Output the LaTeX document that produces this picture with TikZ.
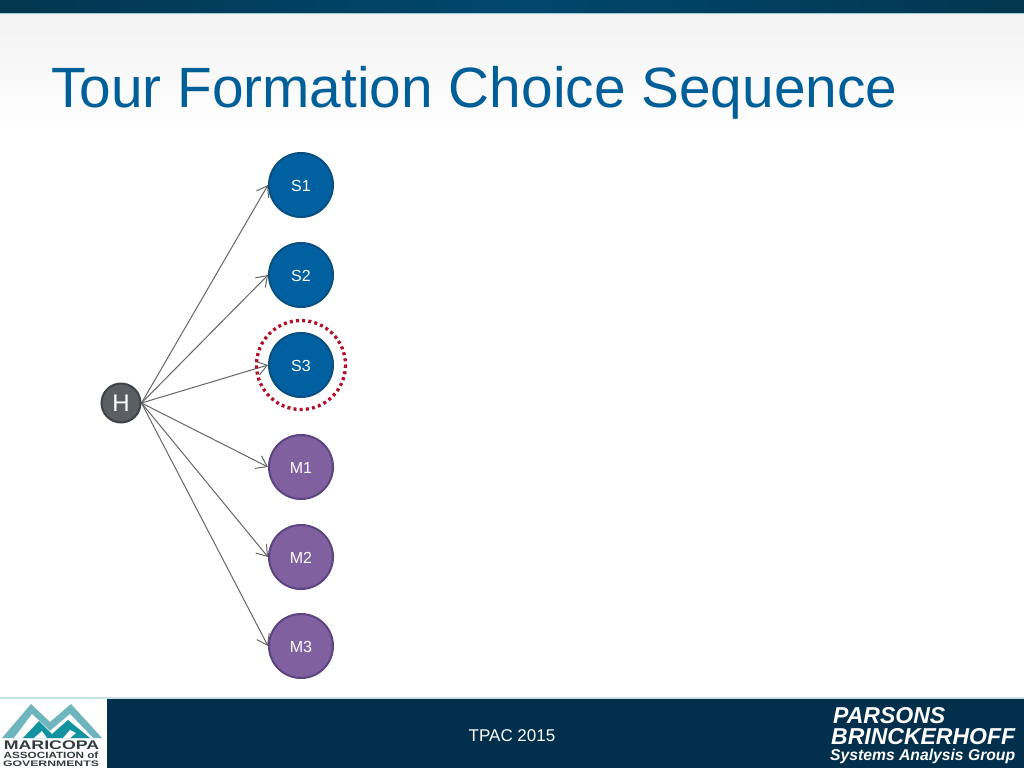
\documentclass[tikz,border=0pt]{standalone}
\usepackage{fontspec}
\setmainfont{Liberation Sans}
\usetikzlibrary{positioning,arrows.meta,backgrounds}
\definecolor{navy}{HTML}{022F4C}
\definecolor{baredge}{HTML}{03364F}
\definecolor{barblue}{HTML}{00476F}
\definecolor{titleblue}{HTML}{005F98}
\definecolor{stopblue}{HTML}{0060A0}
\definecolor{stopedge}{HTML}{0B4F80}
\definecolor{modepurple}{HTML}{80609F}
\definecolor{modeedge}{HTML}{5A4580}
\definecolor{homegray}{HTML}{5A5F64}
\definecolor{homeedge}{HTML}{3F4448}
\definecolor{ringred}{HTML}{B0102A}
\definecolor{arrowgray}{HTML}{666666}
\definecolor{paleteal}{HTML}{6FB5BE}
\definecolor{darkteal}{HTML}{12939F}
\definecolor{logotext}{HTML}{333B40}
\begin{document}
\begin{tikzpicture}[x=1pt, y=-1pt,
        stopnode/.style={circle, draw=stopedge, line width=2pt, fill=stopblue, text=white, minimum size=64pt, inner sep=0pt, text height=13pt, text depth=0pt, font=\fontsize{16}{18}\selectfont},
        modenode/.style={stopnode, draw=modeedge, fill=modepurple},
        homenode/.style={circle, draw=homeedge, line width=2pt, fill=homegray, text=white, minimum size=39pt, inner sep=0pt, font=\fontsize{24}{26}\selectfont},
        edge_style/.style={draw=arrowgray, line width=1pt, -{Straight Barb[length=10pt,width=14pt]}},
        ring_style/.style={draw=ringred, line width=3.3pt, dash pattern=on 3pt off 3.2pt},
        logoline/.style={text=logotext, inner sep=0pt}]
        \useasboundingbox (0,0) rectangle (1024,768);
        % logo
        \fill[paleteal] (2,738) -- (31,704) -- (50,722) -- (71,704) -- (102,738) -- cycle;
        \fill[white] (14,738) -- (32,714) -- (50,731) -- (70,714) -- (93,738) -- cycle;
        \fill[darkteal] (23,738) -- (39,721) -- (52,734) -- (68,720) -- (90,738) -- cycle;
        \fill[white] (34,738) -- (42,731) -- (47,738) -- cycle;
        \fill[white] (63,738) -- (70,730) -- (76,733) -- (70,738) -- cycle;
        \node[logoline, font=\fontsize{12.5}{13}\bfseries\selectfont] (maglineone) at (51.5,745) {\scalebox{1.42}[1]{MARICOPA}};
        \node[logoline, font=\fontsize{9}{10}\bfseries\selectfont] (maglinetwo) at (51,755) {\scalebox{1.3}[1]{ASSOCIATION of}};
        \node[logoline, font=\fontsize{8}{9}\bfseries\selectfont] (maglinethree) at (51,763.5) {\scalebox{1.53}[1]{GOVERNMENTS}};
        % footer texts
        \fill[navy] (107,698.5) rectangle (1024,768);
        \node[text=white, font=\fontsize{17}{18}\selectfont] (tpac) at (512,735.5) {TPAC 2015};
        \node[text=white, anchor=west, inner sep=0pt, font=\fontsize{23}{24}\bfseries\itshape\selectfont] (parsons) at (833,715.5) {PARSONS};
        \node[text=white, anchor=west, inner sep=0pt, font=\fontsize{23}{24}\bfseries\itshape\selectfont] (brinck) at (831,737) {BRINCKERHOFF};
        \node[text=white, anchor=west, inner sep=0pt, font=\fontsize{15.7}{17}\bfseries\itshape\selectfont] (sag) at (830,756.5) {Systems Analysis Group};
        % title
        \node[text=titleblue, anchor=base west, inner sep=0pt, font=\fontsize{56.8}{60}\selectfont] (title) at (51,107) {Tour Formation Choice Sequence};
        % nodes
        \node[homenode] (H) at (121,403) {H};
        \node[stopnode] (S1) at (301,185) {S1};
        \node[stopnode] (S2) at (301,275) {S2};
        \node[stopnode] (S3) at (301,365) {S3};
        \node[modenode] (M1) at (301,467) {M1};
        \node[modenode] (M2) at (301,557) {M2};
        \node[modenode] (M3) at (301,646) {M3};
        \draw[ring_style] (S3) circle (44.5);
        % page and connectors go behind the nodes
        \begin{pgfonlayer}{background}
        \fill[white] (0,0) rectangle (1024,768);
        \shade[top color=black!5, bottom color=white] (0,14) rectangle (1024,135);
        \shade[left color=baredge, right color=baredge, middle color=barblue] (0,0) rectangle (1024,13);
        \fill[paleteal!70] (0,13) rectangle (1024,14.5);
        \fill[paleteal!40] (0,697) rectangle (1024,698.5);
        \foreach \target in {S1,S2,S3,M1,M2,M3}
            \draw[edge_style] (H.east) -- (\target.west);
        \end{pgfonlayer}
      \end{tikzpicture}
\end{document}
